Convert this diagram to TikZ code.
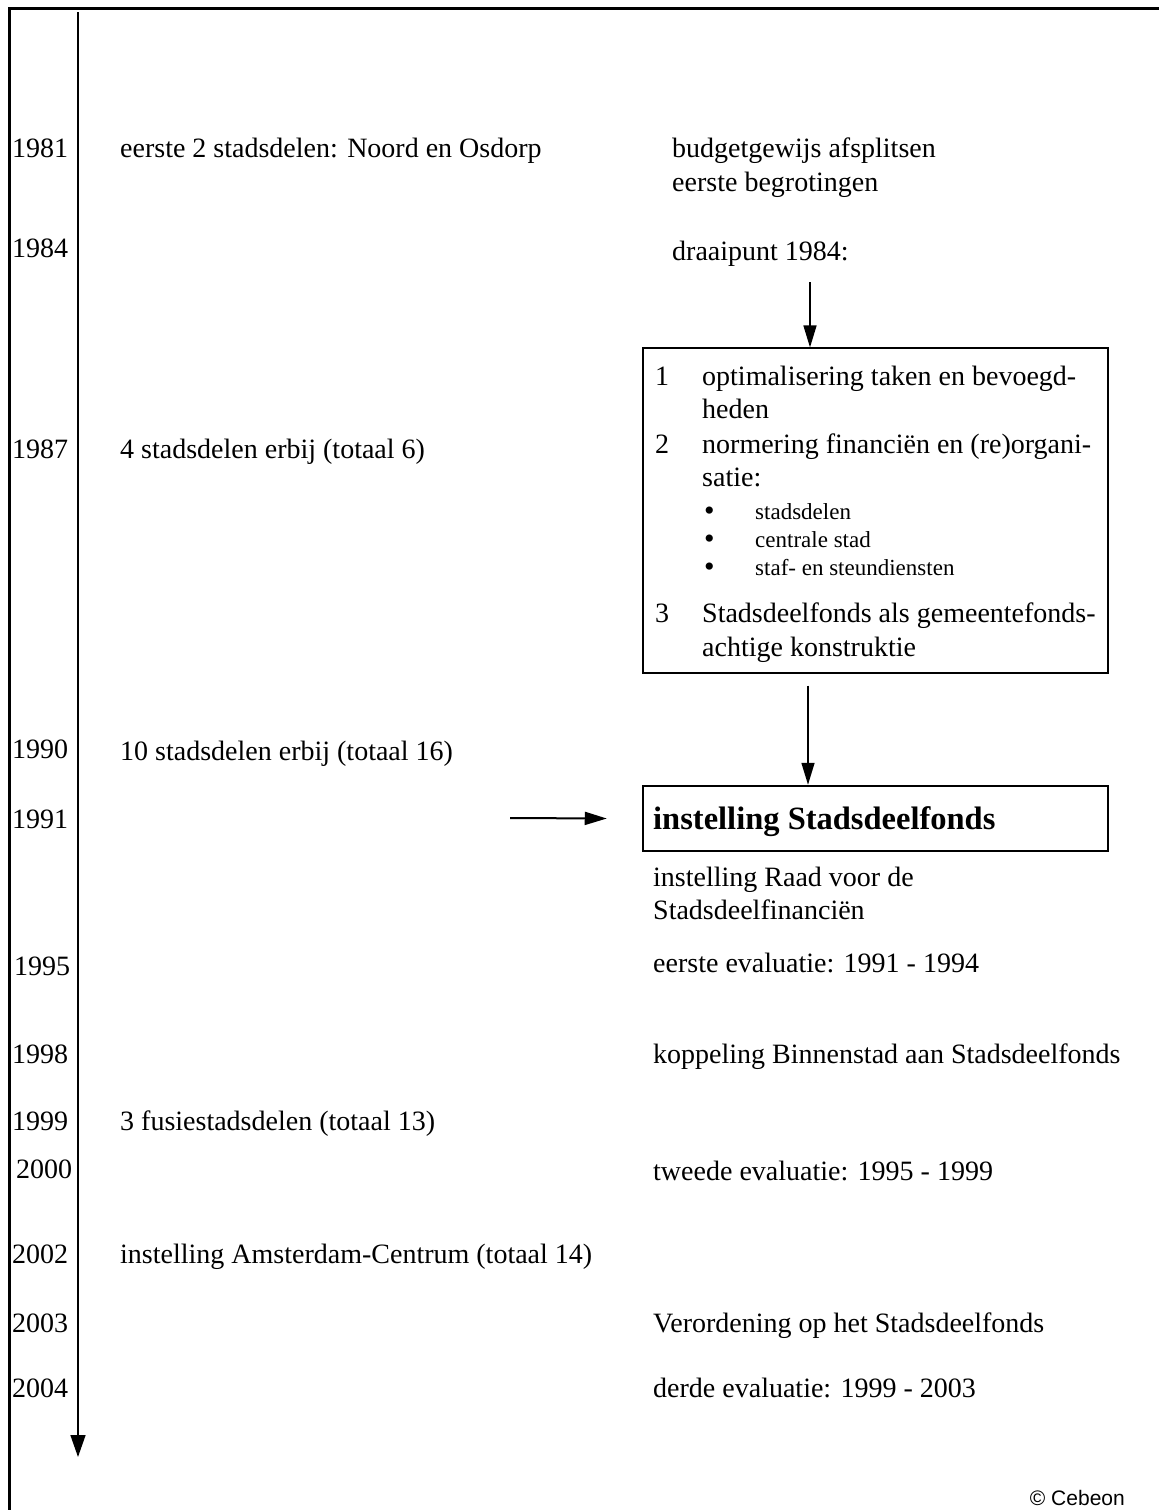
\documentclass[tikz,border=0pt]{standalone}
\usepackage{fontspec}
\setmainfont{Liberation Serif}
\newfontfamily\copyfont{Liberation Sans}
\usetikzlibrary{
  arrows.meta,
  positioning,
}

\begin{document}
\begin{tikzpicture}[
    x=1pt, y=-1pt,
    jaar/.style={anchor=base west, inner sep=0pt,
                 font=\fontsize{28}{32}\selectfont},
    tekst/.style={anchor=base west, inner sep=0pt,
                  font=\fontsize{28}{32}\selectfont},
    klein/.style={anchor=base west, inner sep=0pt,
                  font=\fontsize{23}{26}\selectfont},
    punt/.style={anchor=base west, inner sep=0pt,
                 font=\fontsize{30}{32}\selectfont},
    pijl/.style={-{Triangle[length=22pt,width=13pt]}, line width=1.6pt},
  ]
  \useasboundingbox (0,0) rectangle (1159,1510);

  % kader en tijdas
  \draw[line width=3pt] (9,1510) -- (9,8) -- (1159,8);
  \coordinate (as-begin) at (78,12);
  \coordinate (as-eind)  at (78,1457);
  \draw[line width=1.5pt, -{Triangle[length=22pt,width=15pt]}] (as-begin) -- (as-eind);

  % jaartallen
  \node[jaar] (j1981) at (12,157)  {1981};
  \node[jaar] (j1984) at (12,257)  {1984};
  \node[jaar] (j1987) at (12,458)  {1987};
  \node[jaar] (j1990) at (12,758)  {1990};
  \node[jaar] (j1991) at (12,828)  {1991};
  \node[jaar] (j1995) at (14,975)  {1995};
  \node[jaar] (j1998) at (12,1063) {1998};
  \node[jaar] (j1999) at (12,1130) {1999};
  \node[jaar] (j2000) at (16,1178) {2000};
  \node[jaar] (j2002) at (12,1263) {2002};
  \node[jaar] (j2003) at (12,1332) {2003};
  \node[jaar] (j2004) at (12,1397) {2004};

  % stadsdelen
  \node[tekst] (s1981) at (120,157)  {eerste 2 stadsdelen: Noord en Osdorp};
  \node[tekst] (s1987) at (120,458)  {4 stadsdelen erbij (totaal 6)};
  \node[tekst] (s1990) at (120,760)  {10 stadsdelen erbij (totaal 16)};
  \node[tekst] (s1999) at (120,1130) {3 fusiestadsdelen (totaal 13)};
  \node[tekst] (s2002) at (120,1263) {instelling Amsterdam-Centrum (totaal 14)};

  % financien
  \node[tekst] (budget)    at (672,157) {budgetgewijs afsplitsen};
  \node[tekst] (begroting) at (672,191) {eerste begrotingen};
  \node[tekst] (draaipunt) at (672,260) {draaipunt 1984:};

  \node[draw, line width=1.2pt, minimum width=465pt, minimum height=325pt,
        inner sep=0pt] (kader) at (875.5,510.5) {};
  \node[tekst] (n1) at (655,385) {1};
  \node[tekst] (t1) at (702,385) {optimalisering taken en bevoegd-};
  \node[tekst] (t1b) at (702,418) {heden};
  \node[tekst] (n2) at (655,453) {2};
  \node[tekst] (t2) at (702,453) {normering financiën en (re)organi-};
  \node[tekst] (t2b) at (702,486) {satie:};
  \node[punt] (b1) at (704,520) {\textbullet};
  \node[punt] (b2) at (704,548) {\textbullet};
  \node[punt] (b3) at (704,576) {\textbullet};
  \node[klein] (i1) at (755,519) {stadsdelen};
  \node[klein] (i2) at (755,547) {centrale stad};
  \node[klein] (i3) at (755,575) {staf- en steundiensten};
  \node[tekst] (n3) at (655,622) {3};
  \node[tekst] (t3) at (702,622) {Stadsdeelfonds als gemeentefonds-};
  \node[tekst] (t3b) at (702,656) {achtige konstruktie};

  \node[draw, line width=2.5pt, minimum width=465pt, minimum height=65pt,
        inner sep=0pt] (fonds) at (875.5,818.5) {};
  \node[anchor=base west, inner sep=0pt,
        font=\bfseries\fontsize{32.5}{36}\selectfont] (fondstekst) at (653,829)
        {instelling Stadsdeelfonds};

  \node[tekst] (raad)  at (653,886)  {instelling Raad voor de};
  \node[tekst] (raadb) at (653,919)  {Stadsdeelfinanciën};
  \node[tekst] (e1995) at (653,972)  {eerste evaluatie: 1991 - 1994};
  \node[tekst] (k1998) at (653,1063) {koppeling Binnenstad aan Stadsdeelfonds};
  \node[tekst] (e2000) at (653,1180) {tweede evaluatie: 1995 - 1999};
  \node[tekst] (v2003) at (653,1332) {Verordening op het Stadsdeelfonds};
  \node[tekst] (e2004) at (653,1397) {derde evaluatie: 1999 - 2003};

  % pijlen
  \coordinate (p1) at (810,282);
  \draw[pijl] (p1) -- (p1 |- kader.north);
  \draw[pijl] ([xshift=-67.5pt,yshift=-12pt]kader.south) -- ([xshift=-67.5pt]fonds.north);
  \coordinate (p3) at (510,818);
  \draw[pijl, line width=2pt] (p3) -- ([xshift=-35pt]fonds.west);

  \node[anchor=base east, inner sep=0pt,
        font=\copyfont\fontsize{21}{24}\selectfont] (copy) at (1125,1505) {© Cebeon};
\end{tikzpicture}
\end{document}
